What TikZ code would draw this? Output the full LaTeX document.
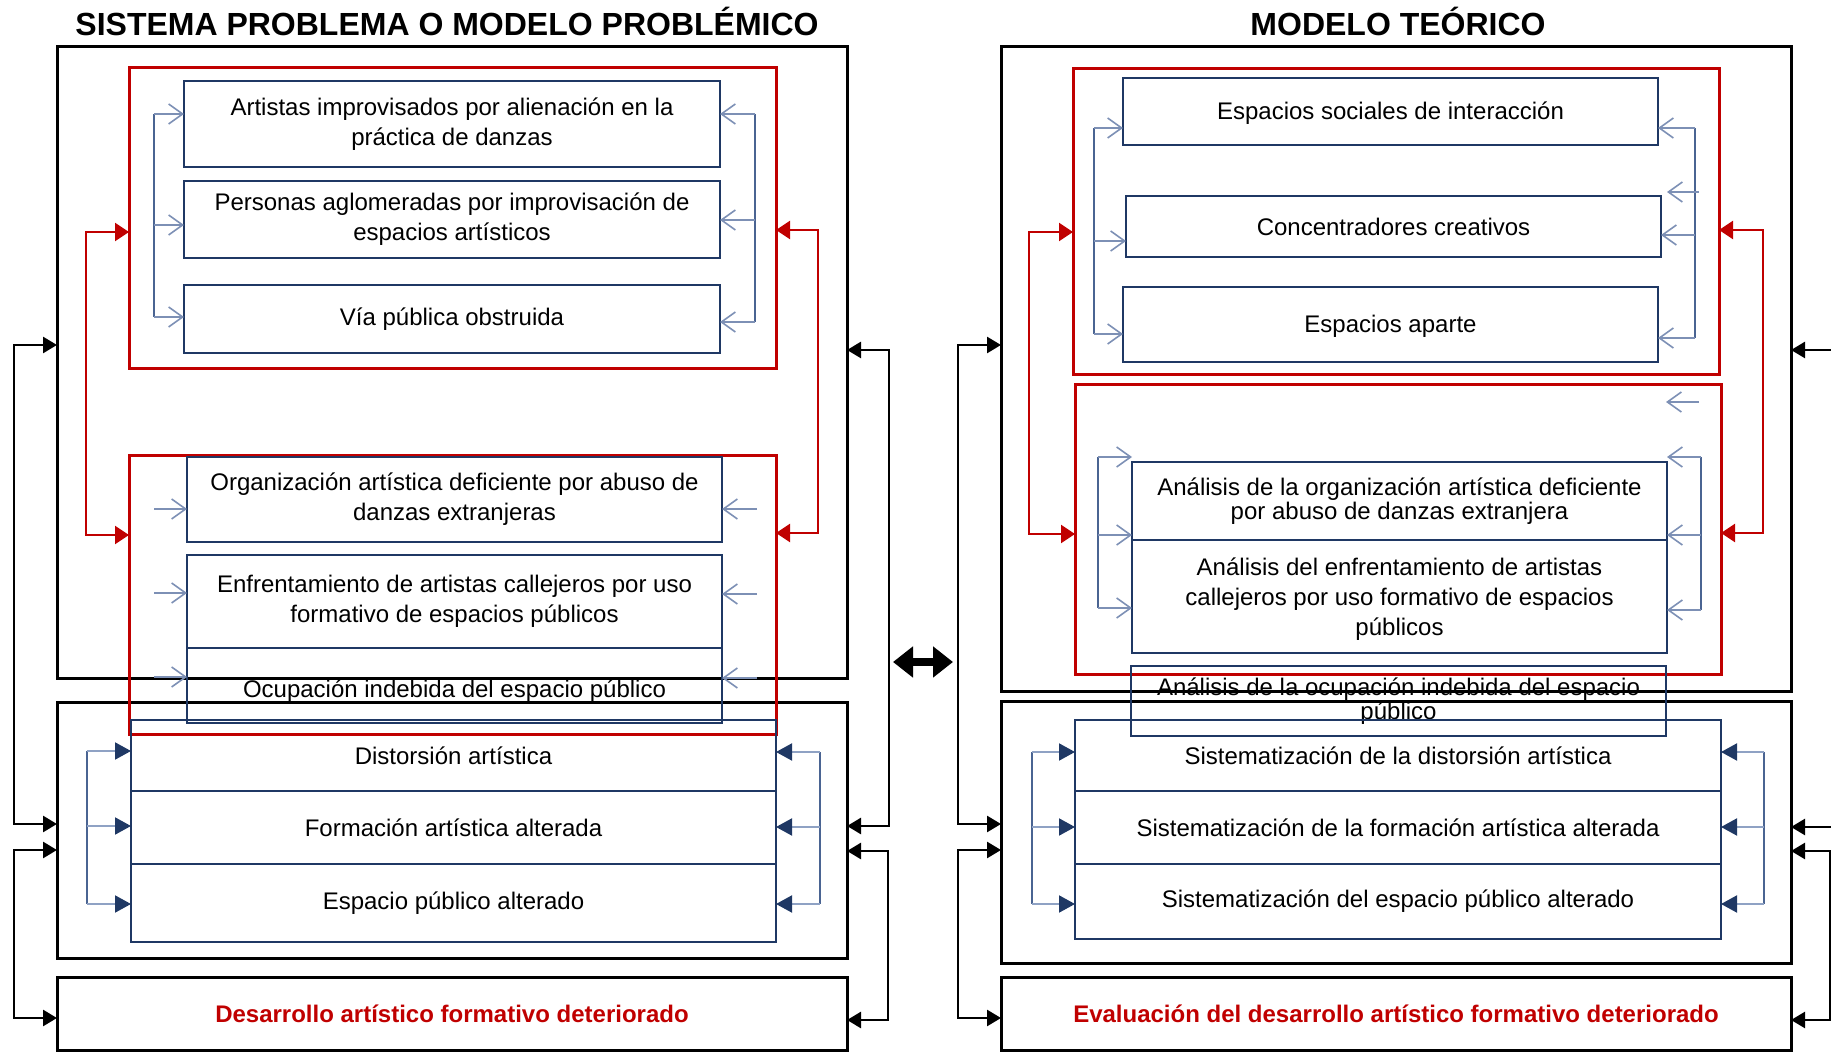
\documentclass[tikz,border=0pt]{standalone}
\usepackage{fontspec}
\setmainfont{Liberation Sans}
\usetikzlibrary{arrows.meta}
\definecolor{navy}{HTML}{1F3864}
\definecolor{dred}{HTML}{C00000}
\definecolor{brk}{HTML}{4A6492}
\definecolor{brklight}{HTML}{7D90B5}
\definecolor{stk}{HTML}{8FA2C4}
\newcommand\mkbox[7]{\node[#1, minimum width={(#5-#3)*0.5pt}, minimum height={(#6-#4)*0.5pt}] (#2) at ({(#3+#5)/2},{(#4+#6)/2}) {#7};}
\begin{document}
\begin{tikzpicture}[x=0.5pt,y=-0.5pt,
  every node/.style={inner sep=0pt, outer sep=0pt},
  blackbox/.style={draw=black, line width=1.5pt},
  redbox/.style={draw=dred, line width=1.5pt},
  bluebox/.style={draw=navy, line width=1pt, align=center, font=\fontsize{12}{15}\selectfont},
  tightbox/.style={bluebox, font=\fontsize{12}{11.8}\selectfont},
  plaintext/.style={align=center, font=\fontsize{12}{15}\selectfont},
  redtext/.style={blackbox, text=dred, font=\fontsize{12}{15}\selectfont\bfseries},
  titletext/.style={font=\fontsize{16}{19}\selectfont\bfseries},
  blk/.style={draw=black, line width=1.3pt, line join=miter, -{Triangle[length=7pt,width=8pt]}},
  blkboth/.style={blk, {Triangle[length=7pt,width=8pt]}-{Triangle[length=7pt,width=8pt]}},
  redboth/.style={draw=dred, line width=1.2pt, line join=miter, {Triangle[length=7pt,width=9pt]}-{Triangle[length=7pt,width=9pt]}},
  brkline/.style={draw=brk, line width=0.9pt},
  openarr/.style={draw=brklight, line width=0.8pt, -{Straight Barb[length=7pt,width=10pt]}},
  stkline/.style={draw=brk, line width=0.9pt},
  stkarr/.style={draw=stk, line width=1pt, -{Triangle[length=8pt,width=8.5pt,color=navy]}},
  dbl/.style={draw=black, line width=4pt, {Triangle[length=10pt,width=15pt]}-{Triangle[length=10pt,width=15pt]}}
]
\useasboundingbox (0,0) rectangle (1831,1052);

% titles
\node[titletext] (tl) at (447,21) {SISTEMA PROBLEMA O MODELO PROBLÉMICO};
\node[titletext] (tr) at (1398,21) {MODELO TEÓRICO};

% ---------------- left panel ----------------
\mkbox{blackbox}{L1}{57}{47}{847}{679}{}
\mkbox{blackbox}{L2}{57}{703}{847}{958}{}
\mkbox{redtext}{L3}{57}{977}{847}{1050}{Desarrollo artístico formativo deteriorado}
\mkbox{redbox}{Lr1}{129}{68}{776}{369}{}
\mkbox{redbox}{Lr2}{129}{456}{776}{735}{}
\mkbox{bluebox}{la}{184}{81}{720}{167}{Artistas improvisados por alienación en la\\práctica de danzas}
\mkbox{bluebox}{lb}{184}{181}{720}{258}{Personas aglomeradas por improvisación de\\espacios artísticos}
\mkbox{bluebox}{lc}{184}{285}{720}{353}{Vía pública obstruida}
\mkbox{bluebox}{ld}{187}{457}{722}{542}{Organización artística deficiente por abuso de\\danzas extranjeras}
\mkbox{bluebox}{le}{187}{555}{722}{648}{Enfrentamiento de artistas callejeros por uso\\formativo de espacios públicos}
\mkbox{bluebox}{lf}{187}{648}{722}{723}{}
\node[plaintext] (lft) at (454.5,691) {Ocupación indebida del espacio público};
\mkbox{bluebox}{ls1}{131}{720}{776}{791}{Distorsión artística}
\mkbox{bluebox}{ls2}{131}{791}{776}{864}{Formación artística alterada}
\mkbox{bluebox}{ls3}{131}{864}{776}{942}{Espacio público alterado}

% ---------------- right panel ----------------
\mkbox{blackbox}{R1}{1001}{47}{1791}{692}{}
\mkbox{blackbox}{R2}{1001}{702}{1791}{963}{}
\mkbox{redtext}{R3}{1001}{977}{1791}{1050}{Evaluación del desarrollo artístico formativo deteriorado}
\mkbox{redbox}{Rr1}{1073}{69}{1719}{375}{}
\mkbox{redbox}{Rr2}{1075}{385}{1721}{675}{}
\mkbox{bluebox}{ra}{1123}{78}{1658}{145}{}
\node[plaintext] (rat) at (1390.5,113) {Espacios sociales de interacción};
\mkbox{bluebox}{rb}{1126}{196}{1661}{257}{Concentradores creativos}
\mkbox{bluebox}{rc}{1123}{287}{1658}{362}{}
\node[plaintext] (rct) at (1390.5,326) {Espacios aparte};
\mkbox{tightbox}{rd}{1132}{462}{1667}{540}{Análisis de la organización artística deficiente\\por abuso de danzas extranjera}
\mkbox{bluebox}{re}{1132}{540}{1667}{653}{}
\node[plaintext] (ret) at (1399.5,599) {Análisis del enfrentamiento de artistas\\callejeros por uso formativo de espacios\\públicos};
\mkbox{tightbox}{rf}{1131}{666}{1666}{736}{Análisis de la ocupación indebida del espacio\\público}
\mkbox{bluebox}{rs1}{1075}{720}{1721}{791}{Sistematización de la distorsión artística}
\mkbox{bluebox}{rs2}{1075}{791}{1721}{864}{Sistematización de la formación artística alterada}
\mkbox{bluebox}{rs3}{1075}{864}{1721}{939}{Sistematización del espacio público alterado}

% ---------------- black connectors ----------------
\coordinate (ka) at (14,345);  \coordinate (kb) at (14,824);
\draw[blkboth] (ka -| L1.west) -- (ka) -- (kb) -- (kb -| L2.west);
\coordinate (kc) at (14,850);  \coordinate (kd) at (14,1018);
\draw[blkboth] (kc -| L2.west) -- (kc) -- (kd) -- (kd -| L3.west);
\coordinate (ke) at (889,350); \coordinate (kf) at (889,826);
\draw[blkboth] (ke -| L1.east) -- (ke) -- (kf) -- (kf -| L2.east);
\coordinate (kg) at (888,851); \coordinate (kh) at (888,1020);
\draw[blkboth] (kg -| L2.east) -- (kg) -- (kh) -- (kh -| L3.east);
\coordinate (ki) at (958,345); \coordinate (kj) at (958,824);
\draw[blkboth] (ki -| R1.west) -- (ki) -- (kj) -- (kj -| R2.west);
\coordinate (kk) at (958,850); \coordinate (kl) at (958,1018);
\draw[blkboth] (kk -| R2.west) -- (kk) -- (kl) -- (kl -| R3.west);
\coordinate (km) at (1831,350);
\draw[blk] (km) -- (km -| R1.east);
\coordinate (kn) at (1831,827);
\draw[blk] (kn) -- (kn -| R2.east);
\coordinate (ko) at (1830,851); \coordinate (kp) at (1830,1020);
\draw[blkboth] (ko -| R2.east) -- (ko) -- (kp) -- (kp -| R3.east);

% double arrow
\coordinate (d1) at (893,662); \coordinate (d2) at (953,662);
\draw[dbl] (d1) -- (d2);

% ---------------- red connectors ----------------
\coordinate (q1) at (86,232);  \coordinate (q2) at (86,535);
\draw[redboth] (q1 -| Lr1.west) -- (q1) -- (q2) -- (q2 -| Lr2.west);
\coordinate (q3) at (818,230); \coordinate (q4) at (818,533);
\draw[redboth] (q3 -| Lr1.east) -- (q3) -- (q4) -- (q4 -| Lr2.east);
\coordinate (q5) at (1029,232); \coordinate (q6) at (1029,534);
\draw[redboth] (q5 -| Rr1.west) -- (q5) -- (q6) -- (q6 -| Rr2.west);
\coordinate (q7) at (1763,230); \coordinate (q8) at (1763,533);
\draw[redboth] (q7 -| Rr1.east) -- (q7) -- (q8) -- (q8 -| Rr2.east);

% ---------------- blue open arrows, left panel ----------------
\coordinate (b1) at (154,114); \coordinate (b2) at (154,225); \coordinate (b3) at (154,317);
\draw[brkline] (b1) -- (b3);
\draw[openarr] (b1) -- (b1 -| la.west);
\draw[openarr] (b2) -- (b2 -| lb.west);
\draw[openarr] (b3) -- (b3 -| lc.west);
\coordinate (b4) at (755,114); \coordinate (b5) at (755,220); \coordinate (b6) at (755,322);
\draw[brkline] (b4) -- (b6);
\draw[openarr] (b4) -- (b4 -| la.east);
\draw[openarr] (b5) -- (b5 -| lb.east);
\draw[openarr] (b6) -- (b6 -| lc.east);
\coordinate (c1) at (154,509); \coordinate (c2) at (154,593); \coordinate (c3) at (154,677);
\draw[openarr] (c1) -- (c1 -| ld.west);
\draw[openarr] (c2) -- (c2 -| le.west);
\draw[openarr] (c3) -- (c3 -| lf.west);
\coordinate (c4) at (757,509); \coordinate (c5) at (757,594); \coordinate (c6) at (757,678);
\draw[openarr] (c4) -- (c4 -| ld.east);
\draw[openarr] (c5) -- (c5 -| le.east);
\draw[openarr] (c6) -- (c6 -| lf.east);

% stack arrows, left panel
\coordinate (s1) at (87,751); \coordinate (s2) at (87,826); \coordinate (s3) at (87,904);
\draw[stkline] (s1) -- (s3);
\draw[stkarr] (s1) -- (s1 -| ls1.west);
\draw[stkarr] (s2) -- (s2 -| ls2.west);
\draw[stkarr] (s3) -- (s3 -| ls3.west);
\coordinate (s4) at (820,752); \coordinate (s5) at (820,827); \coordinate (s6) at (820,904);
\draw[stkline] (s4) -- (s6);
\draw[stkarr] (s4) -- (s4 -| ls1.east);
\draw[stkarr] (s5) -- (s5 -| ls2.east);
\draw[stkarr] (s6) -- (s6 -| ls3.east);

% ---------------- blue open arrows, right panel ----------------
\coordinate (e1) at (1094,128); \coordinate (e2) at (1094,241); \coordinate (e3) at (1094,334);
\draw[brkline] (e1) -- (e3);
\draw[openarr] (e1) -- (e1 -| ra.west);
\draw[openarr] (e2) -- (e2 -| rb.west);
\draw[openarr] (e3) -- (e3 -| rc.west);
\coordinate (e4) at (1695,128); \coordinate (e5) at (1695,235); \coordinate (e6) at (1695,338);
\draw[brkline] (e4) -- (e6);
\draw[openarr] (e4) -- (e4 -| ra.east);
\draw[openarr] (e5) -- (e5 -| rb.east);
\draw[openarr] (e6) -- (e6 -| rc.east);
\coordinate (f1) at (1699,192); \coordinate (f2) at (1667,192);
\draw[openarr] (f1) -- (f2);
\coordinate (g1) at (1098,457); \coordinate (g2) at (1098,535); \coordinate (g3) at (1098,608);
\draw[brkline] (g1) -- (g3);
\draw[openarr] (g1) -- (g1 -| rd.west);
\draw[openarr] (g2) -- (g2 -| rd.west);
\draw[openarr] (g3) -- (g3 -| re.west);
\coordinate (g4) at (1701,457); \coordinate (g5) at (1701,535); \coordinate (g6) at (1701,610);
\draw[brkline] (g4) -- (g6);
\draw[openarr] (g4) -- (g4 -| rd.east);
\draw[openarr] (g5) -- (g5 -| rd.east);
\draw[openarr] (g6) -- (g6 -| re.east);
\coordinate (f3) at (1699,402); \coordinate (f4) at (1666,402);
\draw[openarr] (f3) -- (f4);

% stack arrows, right panel
\coordinate (s7) at (1032,752); \coordinate (s8) at (1032,827); \coordinate (s9) at (1032,904);
\draw[stkline] (s7) -- (s9);
\draw[stkarr] (s7) -- (s7 -| rs1.west);
\draw[stkarr] (s8) -- (s8 -| rs2.west);
\draw[stkarr] (s9) -- (s9 -| rs3.west);
\coordinate (s10) at (1764,752); \coordinate (s11) at (1764,827); \coordinate (s12) at (1764,904);
\draw[stkline] (s10) -- (s12);
\draw[stkarr] (s10) -- (s10 -| rs1.east);
\draw[stkarr] (s11) -- (s11 -| rs2.east);
\draw[stkarr] (s12) -- (s12 -| rs3.east);
\end{tikzpicture}
\end{document}
